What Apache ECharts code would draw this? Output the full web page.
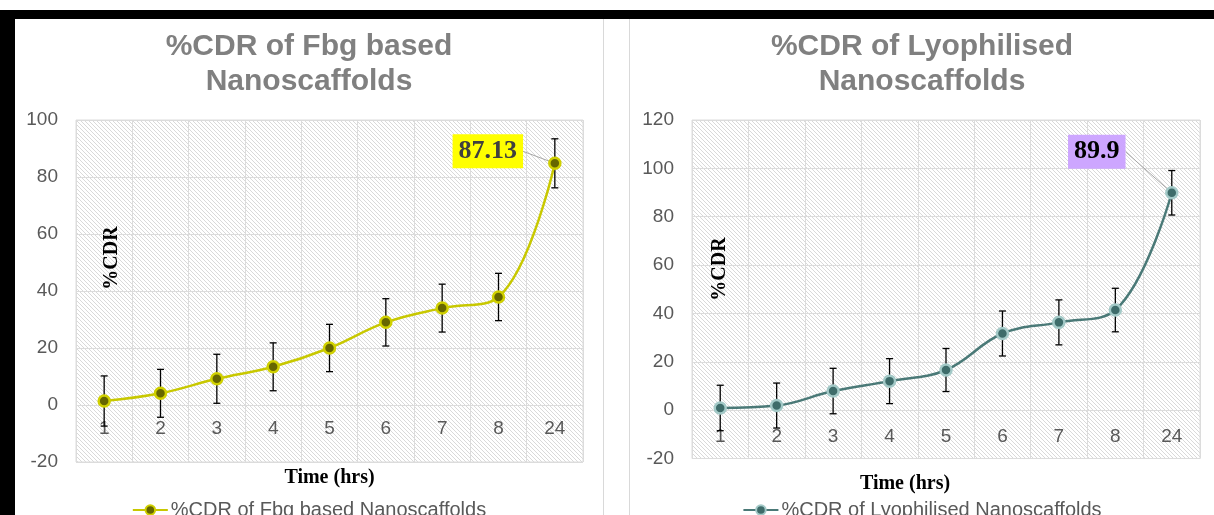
<!DOCTYPE html>
<html><head><meta charset="utf-8">
<script src="https://cdn.jsdelivr.net/npm/echarts@6/dist/echarts.min.js"></script>
<style>
html,body{margin:0;padding:0;background:#fff;width:1214px;height:515px;overflow:hidden;position:relative}
#topbar{position:absolute;left:0;top:10px;width:1214px;height:9px;background:#000}
#leftbar{position:absolute;left:0;top:10px;width:15px;height:505px;background:#000}
.sep{position:absolute;top:19px;width:1px;height:496px;background:#d9d9d9}
#c1{position:absolute;left:15px;top:19px;width:588px;height:496px}
#c2{position:absolute;left:630px;top:19px;width:584px;height:496px}
</style></head><body>
<div id="topbar"></div><div id="leftbar"></div>
<div class="sep" style="left:603px"></div><div class="sep" style="left:629px"></div>
<div id="c1"></div><div id="c2"></div>
<script>
// ---- data ----
const categories = ['1', '2', '3', '4', '5', '6', '7', '8', '24'];
const fbgValues = [1.4, 4.1, 9.2, 13.4, 20.0, 29.0, 34.0, 37.9, 84.8];
const fbgErrors = [8.8, 8.4, 8.6, 8.4, 8.3, 8.3, 8.4, 8.3, 8.6];
const lyoValues = [0.9, 1.9, 7.9, 12.0, 16.6, 31.7, 36.3, 41.4, 89.9];
const lyoErrors = [9.4, 9.3, 9.4, 9.3, 8.9, 9.3, 9.3, 9.0, 9.2];
const fbgPeakLabel = '87.13';
const lyoPeakLabel = '89.9';
const fbgTitle = '%CDR of Fbg based\nNanoscaffolds';
const lyoTitle = '%CDR of Lyophilised\nNanoscaffolds';
const fbgName = '%CDR of Fbg based Nanoscaffolds';
const lyoName = '%CDR of Lyophilised Nanoscaffolds';
const xAxisTitle = 'Time (hrs)';
const yAxisTitle = '%CDR';

// hatch pattern
const pc = document.createElement('canvas');
pc.width = 4; pc.height = 4;
const pctx = pc.getContext('2d');
pctx.fillStyle = '#fff'; pctx.fillRect(0, 0, 4, 4);
pctx.fillStyle = '#d9d9d9';
for (let i = 0; i < 4; i++) pctx.fillRect(i, i, 1, 1);

function errorBarItem(params, api) {
  const xi = api.value(0);
  const top = api.coord([xi, api.value(2)]);
  const bot = api.coord([xi, api.value(1)]);
  const hw = 3.5;
  const style = { stroke: '#000', lineWidth: 1.3 };
  return { type: 'group', children: [
    { type: 'line', shape: { x1: top[0], y1: top[1], x2: bot[0], y2: bot[1] }, style },
    { type: 'line', shape: { x1: top[0] - hw, y1: top[1], x2: top[0] + hw, y2: top[1] }, style },
    { type: 'line', shape: { x1: bot[0] - hw, y1: bot[1], x2: bot[0] + hw, y2: bot[1] }, style }
  ]};
}

function build(cfg) {
  const n = cfg.values.length;
  const lineData = cfg.values.map((v, i) => i === n - 1 ? {
    value: v,
    label: {
      show: true, position: 'inside', formatter: () => cfg.peakLabel,
      backgroundColor: cfg.peakBg, padding: [5, 6, 3, 6],
      fontFamily: 'Liberation Serif', fontWeight: 'bold', fontSize: 26, color: cfg.peakColor
    }
  } : v);
  return {
    animation: false,
    title: {
      text: cfg.title, left: 'center', top: 5,
      textStyle: { fontFamily: 'Liberation Sans', fontWeight: 'bold', fontSize: 30, lineHeight: 35, color: '#808080' }
    },
    legend: {
      data: [cfg.name], left: 'center', top: 476, itemWidth: 35, itemHeight: 12, itemGap: 4,
      textStyle: { fontFamily: 'Liberation Sans', fontSize: 20, color: '#595959', padding: [0, 0, 0, -2] }
    },
    grid: {
      left: cfg.gridLeft, width: cfg.gridWidth, top: 101, height: cfg.gridHeight,
      outerBoundsMode: 'none', containLabel: false,
      show: true, backgroundColor: { image: pc, repeat: 'repeat' }, borderColor: '#dcdcdc', borderWidth: 1
    },
    xAxis: {
      type: 'category', data: categories, boundaryGap: true,
      axisLine: { show: false, onZero: false },
      axisTick: { show: false },
      axisLabel: { margin: cfg.labelMargin, fontFamily: 'Liberation Sans', fontSize: 19, color: '#595959' },
      splitLine: { show: true, interval: 0, lineStyle: { color: '#dcdcdc', width: 1 } },
      name: xAxisTitle, nameLocation: 'middle', nameGap: cfg.nameGap,
      nameTextStyle: { fontFamily: 'Liberation Serif', fontWeight: 'bold', fontSize: 20, color: '#000', padding: cfg.namePad }
    },
    yAxis: {
      type: 'value', min: -20, max: cfg.yMax, interval: 20,
      axisLine: { show: false }, axisTick: { show: false },
      axisLabel: { margin: 18, fontFamily: 'Liberation Sans', fontSize: 19, color: '#595959' },
      splitLine: { lineStyle: { color: '#dcdcdc', width: 1 } }
    },
    graphic: [{
      type: 'text', x: cfg.yNamePos[0], y: cfg.yNamePos[1], rotation: Math.PI / 2,
      style: { text: yAxisTitle, font: 'bold 20px "Liberation Serif"', fill: '#000', align: 'center', verticalAlign: 'middle' }
    }],
    series: [
      {
        type: 'custom', name: 'err', z: 1, renderItem: errorBarItem,
        encode: { x: 0, y: [1, 2] },
        data: cfg.values.map((v, i) => [i, v - cfg.errors[i], v + cfg.errors[i]])
      },
      {
        type: 'line', name: cfg.name, z: 3, smooth: 0.4, data: lineData,
        symbol: 'circle', symbolSize: 11,
        lineStyle: { color: cfg.lineColor, width: 2.5 },
        itemStyle: { color: cfg.markerColor, borderColor: cfg.markerBorder, borderWidth: 2.5 },
        labelLayout: { dx: cfg.labelOffset[0], dy: cfg.labelOffset[1] },
        labelLine: { show: true, lineStyle: { color: '#a6a6a6', width: 1 } }
      }
    ]
  };
}

const c1 = echarts.init(document.getElementById('c1'));
c1.setOption(build({
  title: fbgTitle, name: fbgName, values: fbgValues, errors: fbgErrors,
  peakLabel: fbgPeakLabel, peakBg: '#ffff00', peakColor: '#3f3f3f',
  gridLeft: 61, gridWidth: 507, gridHeight: 342, yMax: 100,
  labelMargin: -43, nameGap: 1, namePad: [0, 0, 0, 0], yNamePos: [97, 239],
  lineColor: '#c8c800', markerColor: '#666600', markerBorder: '#d0d000',
  labelOffset: [-67, -12]
}));
const c2 = echarts.init(document.getElementById('c2'));
c2.setOption(build({
  title: lyoTitle, name: lyoName, values: lyoValues, errors: lyoErrors,
  peakLabel: lyoPeakLabel, peakBg: '#cda6ff', peakColor: '#000',
  gridLeft: 62, gridWidth: 508, gridHeight: 338.5, yMax: 120,
  labelMargin: -31, nameGap: 15, namePad: [0, 82, 0, 0], yNamePos: [90, 250],
  lineColor: '#4a7977', markerColor: '#3e6c6a', markerBorder: '#a3c9c7',
  labelOffset: [-75, -41]
}));
</script>
</body></html>
